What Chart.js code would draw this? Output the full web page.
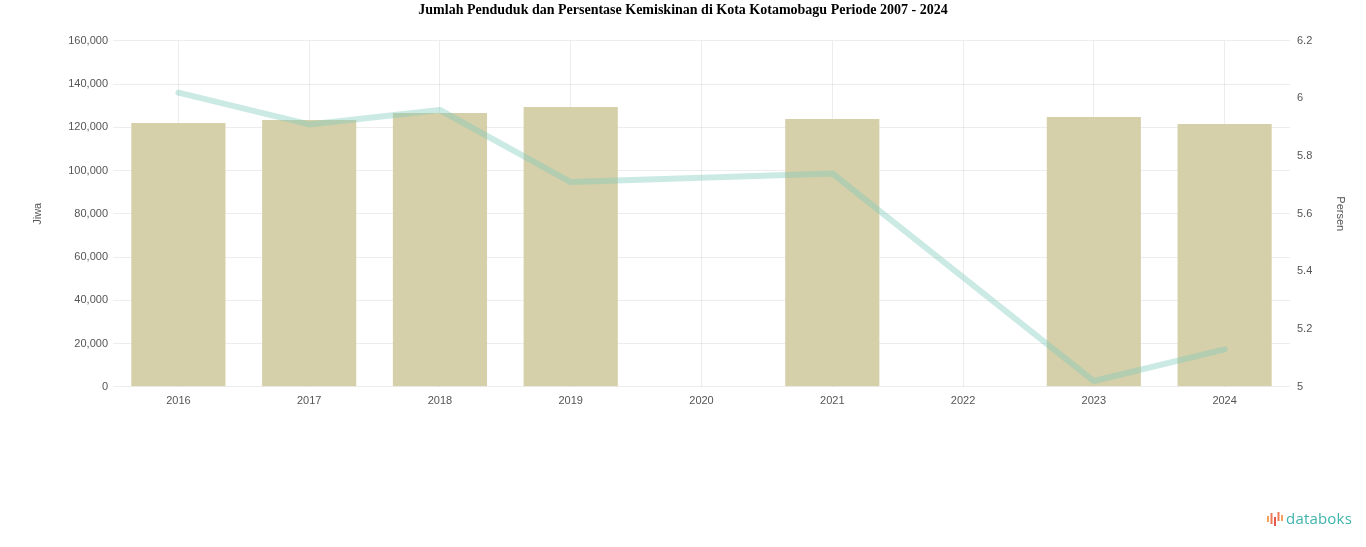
<!DOCTYPE html>
<html>
<head>
<meta charset="utf-8">
<script src="https://cdn.jsdelivr.net/npm/chart.js@4.4.0/dist/chart.umd.min.js"></script>
<style>
  html, body { margin: 0; padding: 0; background: #fff; }
  #wrap { position: relative; width: 1366px; height: 547px; }
  #logo { position: absolute; left: 1266px; top: 508px; display: flex; align-items: center;
          font-family: "Open Sans", "Liberation Sans", sans-serif; font-size: 15px; color: #3fb3ac; letter-spacing: 0.2px; }
  #logo svg { margin-right: 2px; }
</style>
</head>
<body>
<div id="wrap">
  <canvas id="c" width="1366" height="547"></canvas>
  <div id="logo">
    <svg width="18" height="18" viewBox="0 0 18 18">
      <rect x="1" y="7" width="2" height="6" fill="#f4a25b"/>
      <rect x="4.5" y="4" width="2" height="11" fill="#ee7c5a"/>
      <rect x="8" y="8" width="2" height="9" fill="#e8574f"/>
      <rect x="11.5" y="3" width="2" height="9" fill="#ee7c5a"/>
      <rect x="15" y="6" width="2" height="6" fill="#f4a25b"/>
    </svg><span>databoks</span>
  </div>
</div>
<script>
const categories = ["2016", "2017", "2018", "2019", "2020", "2021", "2022", "2023", "2024"];
const populationValues = [122000, 123400, 126600, 129400, 0, 123800, 0, 124800, 121500];
const povertyValues = [6.02, 5.91, 5.96, 5.71, null, 5.74, null, 5.02, 5.13];
const leftTicks = { min: 0, max: 160000, step: 20000 };
const rightTicks = { min: 5, max: 6.2, step: 0.2 };
const titleText = "Jumlah Penduduk dan Persentase Kemiskinan di Kota Kotamobagu Periode 2007 - 2024";
const leftAxisTitle = "Jiwa";
const rightAxisTitle = "Persen";

const tickFont = { family: "'Liberation Sans', Arial, sans-serif", size: 11 };
const tickColor = "#555";
const gridColor = "rgba(0,0,0,0.07)";

new Chart(document.getElementById("c"), {
  data: {
    labels: categories,
    datasets: [
      {
        type: "line",
        label: "Persentase Kemiskinan",
        data: povertyValues,
        yAxisID: "y1",
        borderColor: "rgba(120, 200, 185, 0.38)",
        backgroundColor: "rgba(120, 200, 185, 0.38)",
        borderWidth: 6,
        pointRadius: 0,
        tension: 0,
        spanGaps: true,
        borderJoinStyle: "round",
        borderCapStyle: "round",
        order: 0
      },
      {
        type: "bar",
        label: "Jumlah Penduduk",
        data: populationValues,
        yAxisID: "y",
        backgroundColor: "#d6d0aa",
        barPercentage: 0.9,
        categoryPercentage: 0.8,
        order: 1
      }
    ]
  },
  options: {
    responsive: false,
    animation: false,
    layout: { padding: { left: 10, right: 10, top: 0, bottom: 131 } },
    plugins: {
      legend: { display: false },
      tooltip: { enabled: false },
      title: {
        display: true,
        text: titleText,
        color: "#000",
        font: { family: "'Liberation Serif', 'Times New Roman', serif", size: 14, weight: "bold" },
        padding: { top: 2, bottom: 22 }
      }
    },
    scales: {
      x: {
        grid: { color: gridColor, offset: false, drawTicks: false },
        border: { display: false },
        ticks: { color: tickColor, font: tickFont, padding: 8 }
      },
      y: {
        position: "left",
        min: leftTicks.min, max: leftTicks.max,
        ticks: { stepSize: leftTicks.step, color: tickColor, font: tickFont, padding: 5 },
        grid: { color: gridColor, drawTicks: false },
        border: { display: false },
        title: { display: true, text: leftAxisTitle, color: tickColor, font: tickFont, padding: { top: 21, bottom: 0 } },
        afterFit: s => { s.width = 103; }
      },
      y1: {
        position: "right",
        min: rightTicks.min, max: rightTicks.max,
        ticks: {
          stepSize: rightTicks.step, color: tickColor, font: tickFont, padding: 7,
          callback: v => String(Number(Number(v).toFixed(1)))
        },
        grid: { display: false, drawTicks: false },
        border: { display: false },
        title: { display: true, text: rightAxisTitle, color: tickColor, font: tickFont, padding: { top: 9, bottom: 0 } },
        afterFit: s => { s.width = 66; }
      }
    }
  }
});
</script>
</body>
</html>
